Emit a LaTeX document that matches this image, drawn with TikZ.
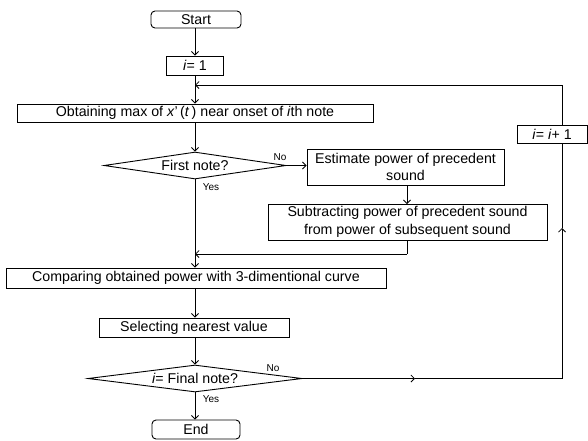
\documentclass[tikz,border=0pt]{standalone}
\usepackage{fontspec}
\setmainfont{Liberation Sans}
\usetikzlibrary{shapes.geometric,arrows.meta}
\begin{document}
\begin{tikzpicture}[x=1pt,y=-1pt,
  every node/.style={font=\fontsize{14.2}{17.5}\selectfont},
  box/.style={draw,line width=0.9pt,inner sep=0pt,align=center},
  rbox/.style={box,rounded corners=4pt},
  dec/.style={draw,line width=0.9pt,diamond,inner sep=0pt,aspect=6.7},
  lbl/.style={font=\fontsize{10}{12}\selectfont,inner sep=0pt},
  ln/.style={line width=0.8pt},
  arr/.style={ln,-{Straight Barb[length=3.5pt,width=7pt]}}]
\useasboundingbox (0,0) rectangle (588,440);
\node[rbox,minimum width=90pt,minimum height=17pt] (start) at (196,19.5) {Start};
\node[box,minimum width=57pt,minimum height=19pt] (i1) at (195,65.5) {\textit{i}= 1};
\node[box,minimum width=356pt,minimum height=18pt] (obtain) at (195,113) {Obtaining max of \textit{x}'\,(\textit{t}\,) near onset of \textit{i}th note};
\node[dec,minimum width=182pt,minimum height=27pt] (first) at (195,165.5) {First note?};
\node[box,minimum width=197pt,minimum height=36pt] (est) at (405.5,167) {Estimate power of precedent\\sound};
\node[box,minimum width=279pt,minimum height=36pt] (sub) at (407.5,222) {Subtracting power of precedent sound\\from power of subsequent sound};
\node[box,minimum width=380pt,minimum height=20pt] (comp) at (196,278) {Comparing obtained power with 3-dimentional curve};
\node[box,minimum width=190pt,minimum height=19pt] (sel) at (194,327.5) {Selecting nearest value};
\node[dec,minimum width=214pt,minimum height=27pt] (final) at (195,378.5) {\textit{i}= Final note?};
\node[rbox,minimum width=88pt,minimum height=19pt] (end) at (196,429.5) {End};
\node[box,minimum width=70pt,minimum height=18pt] (inc) at (552,134) {\textit{i}= \textit{i}+ 1};
% labels
\node[lbl] (no1) at (280,157) {No};
\node[lbl] (yes1) at (211,187) {Yes};
\node[lbl] (no2) at (273,368) {No};
\node[lbl] (yes2) at (211,399) {Yes};
% coordinates
\coordinate (loop) at (195,85);
\coordinate (merge) at (195,254);
\coordinate (m1) at (415,378.5);
\coordinate (c1) at (562,378.5);
\coordinate (m2) at (562,228);
\coordinate (c2) at (562,85);
\coordinate (s1) at (407,185);
\coordinate (s2) at (407,204);
\coordinate (s3) at (407,240);
\coordinate (s4) at (407,254);
% connectors
\draw[arr] (start.south -| i1.north) -- (i1.north);
\draw[arr] (i1.south) -- (obtain.north);
\draw[arr] (obtain.south) -- (first.north);
\draw[arr] (first.east) -- (first.east -| est.west);
\draw[arr] (s1) -- (s2);
\draw[arr] (first.south) -- (comp.north -| first.south);
\draw[ln] (s3) -- (s4);
\draw[arr] (s4) -- (merge);
\draw[arr] (comp.south -| final.north) -- (sel.north -| final.north);
\draw[arr] (sel.south -| final.north) -- (final.north);
\draw[arr] (final.south) -- (end.north -| final.south);
\draw[arr] (final.east) -- (m1);
\draw[ln] (m1) -- (c1);
\draw[arr] (c1) -- (m2);
\draw[ln] (m2) -- (c1 |- inc.south);
\draw[ln] (c1 |- inc.north) -- (c2);
\draw[arr] (c2) -- (loop);
\end{tikzpicture}
\end{document}
